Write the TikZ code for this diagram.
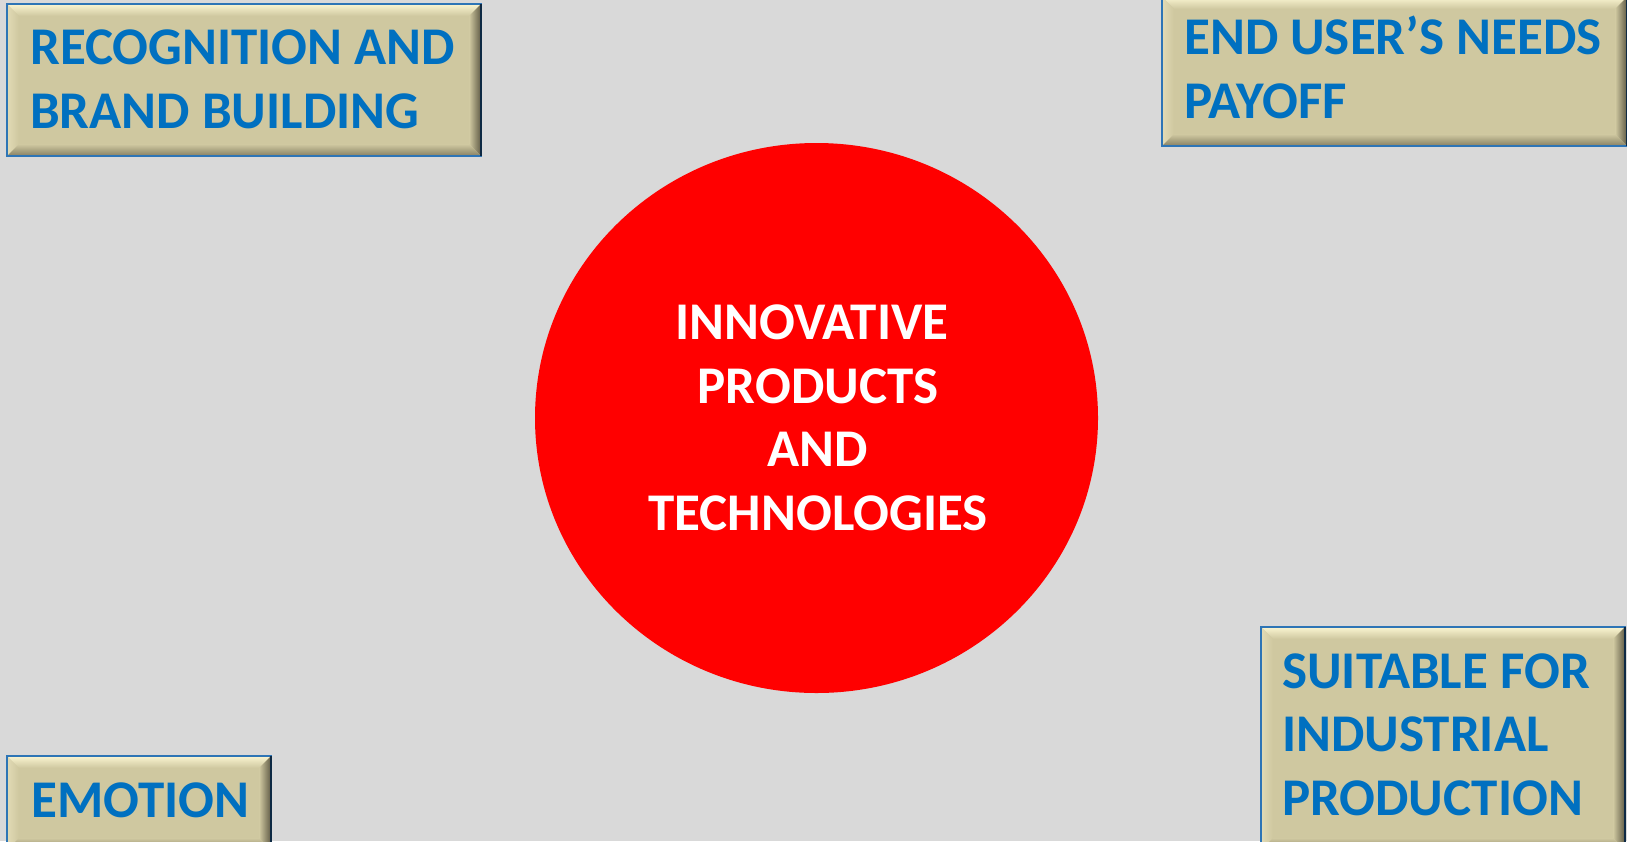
\documentclass[tikz,border=0pt]{standalone}
\usepackage{fontspec}
\setmainfont{Carlito}
\usetikzlibrary{calc,shapes.geometric}
\definecolor{bg}{HTML}{D9D9D9}
\definecolor{khaki}{HTML}{CFC8A0}
\definecolor{hi}{HTML}{FBF6D2}
\definecolor{lhi}{HTML}{E2DBB6}
\definecolor{sh}{HTML}{5E5944}
\definecolor{bsh}{HTML}{857F62}
\definecolor{edgeblue}{HTML}{2E75B6}
\definecolor{navy}{HTML}{0E2A44}
\definecolor{txtblue}{HTML}{0070C0}
\definecolor{bigred}{HTML}{FF0000}
\tikzset{
  boxbase/.style={rectangle, fill=khaki, draw=none, inner sep=0pt},
  lbl/.style={text=txtblue, font=\fontsize{53}{63.5}\selectfont\bfseries, align=left, inner sep=0pt, anchor=base west},
  ctext/.style={text=white, font=\fontsize{53}{63.5}\selectfont\bfseries, align=center, inner sep=0pt, anchor=base},
}
\newcommand{\bevelbox}[1]{%
  \shade[top color=hi, bottom color=khaki] (#1.north west) -- (#1.north east) -- ($(#1.north east)+(-12,12)$) -- ($(#1.north west)+(12,12)$) -- cycle;
  \shade[left color=lhi, right color=khaki] (#1.north west) -- (#1.south west) -- ($(#1.south west)+(12,-12)$) -- ($(#1.north west)+(12,12)$) -- cycle;
  \shade[left color=khaki, right color=sh] (#1.north east) -- (#1.south east) -- ($(#1.south east)+(-12,-12)$) -- ($(#1.north east)+(-12,12)$) -- cycle;
  \shade[top color=khaki, bottom color=bsh] (#1.south west) -- (#1.south east) -- ($(#1.south east)+(-12,-12)$) -- ($(#1.south west)+(12,-12)$) -- cycle;
  \draw[edgeblue, line width=2pt] (#1.north west) rectangle (#1.south east);
  \draw[navy, line width=2.5pt] (#1.north east) -- (#1.south east);
}
\begin{document}
\begin{tikzpicture}[x=1pt,y=-1pt]
\useasboundingbox (0,0) rectangle (1627,841);
\fill[bg] (0,0) rectangle (1627,841);
% central circle
\node[ellipse, fill=bigred, draw=none, inner sep=0pt, minimum width=563pt, minimum height=550pt] (core) at (816.5,418) {};
\node[ctext] (coretext) at (818,530) {INNOVATIVE\hspace*{12pt}\\PRODUCTS\\AND\\TECHNOLOGIES};
% box 1
\node[boxbase, minimum width=474pt, minimum height=152pt] (b1) at (244,80) {};
\bevelbox{b1}
\node[lbl] (t1) at (30,128) {RECOGNITION AND\\BRAND BUILDING};
% box 2
\node[boxbase, minimum width=465pt, minimum height=149pt] (b2) at (1394.5,71.5) {};
\bevelbox{b2}
\node[lbl] (t2) at (1184,118) {END USER’S NEEDS\\PAYOFF};
% box 3
\node[boxbase, minimum width=364pt, minimum height=223pt] (b3) at (1443,738.5) {};
\bevelbox{b3}
\node[lbl] (t3) at (1282,815) {SUITABLE FOR\\INDUSTRIAL\\PRODUCTION};
% box 4
\node[boxbase, minimum width=264pt, minimum height=94pt] (b4) at (139,803) {};
\bevelbox{b4}
\node[lbl] (t4) at (31,817) {EMOTION};
\end{tikzpicture}
\end{document}
